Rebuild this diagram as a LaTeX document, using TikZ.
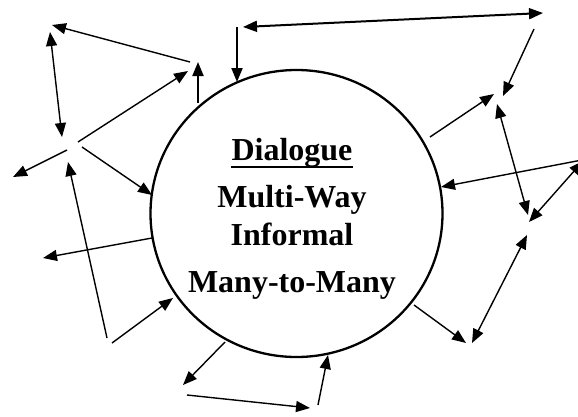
\documentclass[tikz,border=0pt]{standalone}
\usepackage{fontspec}
\setmainfont{Liberation Serif}
\usetikzlibrary{arrows.meta,shapes.geometric}
\begin{document}
\begin{tikzpicture}[x=1pt,y=-1pt,
  tip/.tip={Triangle[length=14pt,width=11pt]},
  link/.style={line width=1.4pt,-tip},
  bilink/.style={line width=1.4pt,tip-tip},
  heavy/.style={line width=2pt},
  label/.style={anchor=base,inner sep=0pt,font=\fontsize{32}{38}\selectfont\bfseries}]
\useasboundingbox (0,0) rectangle (578,416);

% central circle and its text
\node[ellipse,draw,line width=2.3pt,minimum width=292pt,minimum height=287pt,inner sep=0pt] (dlg) at (296.5,213.5) {};
\node[label] (dia) at (292,160) {Dialogue};
\draw[line width=2pt] ([yshift=-7pt]dia.base west) -- ([yshift=-7pt]dia.base east);
\node[label] (mw) at (292,207) {Multi-Way};
\node[label] (inf) at (292,245) {Informal};
\node[label] (mm) at (292,292) {Many-to-Many};

% end points of the connectors
\coordinate (a1) at (190,62);   \coordinate (a2) at (52,25);
\coordinate (b1) at (50,32);    \coordinate (b2) at (62,137);
\coordinate (c1) at (78,142);   \coordinate (c2) at (188,71);
\coordinate (d1) at (198,103);  \coordinate (d2) at (198,62);
\coordinate (e1) at (237,27);   \coordinate (e2) at (237,82);
\coordinate (t1) at (243,27);   \coordinate (t2) at (543,13);
\coordinate (q1) at (534,29);   \coordinate (q2) at (503,96);
\coordinate (p1) at (430,137);  \coordinate (p2) at (494,94);
\coordinate (r1) at (497,104);  \coordinate (r2) at (528,215);
\coordinate (s1) at (582,160);  \coordinate (s2) at (441,187);
\coordinate (u1) at (583,161);  \coordinate (u2) at (529,222);
\coordinate (o1) at (472,343);  \coordinate (o2) at (527,235);
\coordinate (n1) at (414,305);  \coordinate (n2) at (466,343);
\coordinate (m1) at (318,405);  \coordinate (m2) at (328,355);
\coordinate (l1) at (187,395);  \coordinate (l2) at (310,408);
\coordinate (k1) at (225,342);  \coordinate (k2) at (183,385);
\coordinate (j1) at (112,343);  \coordinate (j2) at (173,298);
\coordinate (h1) at (107,338);  \coordinate (h2) at (68,162);
\coordinate (i1) at (152,238);  \coordinate (i2) at (43,258);
\coordinate (g1) at (67,150);   \coordinate (g2) at (13,177);
\coordinate (f1) at (82,147);   \coordinate (f2) at (152,195);

% connectors
\draw[link] (a1) -- (a2);
\draw[bilink] (b1) -- (b2);
\draw[link] (c1) -- (c2);
\draw[link,heavy] (d1) -- (d2);
\draw[link,heavy] (e1) -- (e2);
\draw[bilink,heavy] (t1) -- (t2);
\draw[link] (q1) -- (q2);
\draw[link] (p1) -- (p2);
\draw[bilink] (r1) -- (r2);
\draw[link] (s1) -- (s2);
\draw[bilink] (u1) -- (u2);
\draw[bilink] (o1) -- (o2);
\draw[link] (n1) -- (n2);
\draw[link] (m1) -- (m2);
\draw[link] (l1) -- (l2);
\draw[link] (k1) -- (k2);
\draw[link] (j1) -- (j2);
\draw[link] (h1) -- (h2);
\draw[link] (i1) -- (i2);
\draw[link] (g1) -- (g2);
\draw[link] (f1) -- (f2);
\end{tikzpicture}
\end{document}
